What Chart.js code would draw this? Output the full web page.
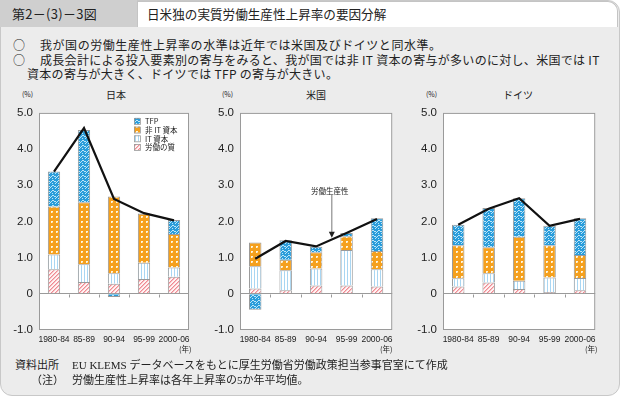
<!DOCTYPE html>
<html><head><meta charset="utf-8">
<script src="https://cdn.jsdelivr.net/npm/chart.js@4.4.0/dist/chart.umd.min.js"></script>
<style>
body{margin:0;width:621px;height:398px;background:#fff;position:relative;overflow:hidden;font-family:"Noto Sans CJK JP",sans-serif;color:#222}
.abs{position:absolute;white-space:nowrap}
canvas{position:absolute}
</style></head><body>
<div class="abs" style="left:0;top:0;width:618px;height:394px;background:#ececec;border:1px solid #c8c8c8;border-radius:0 12px 12px 12px"></div>
<div class="abs" style="left:0;top:0;width:137px;height:27px;background:#cfcfcf"></div>
<div class="abs" style="left:137px;top:1px;width:479px;height:25px;background:#fff;border:1px solid #c4c4c4;border-bottom:none;border-radius:0 10px 0 0"></div>
<div class="abs" style="left:12px;top:5px;font-size:13px;line-height:17px;letter-spacing:0.3px">第2－(3)－3図</div>
<div class="abs" style="left:147px;top:5px;font-size:12.6px;line-height:17px">日米独の実質労働生産性上昇率の要因分解</div>
<div class="abs" style="left:13px;top:37px;font-size:12px;line-height:16px">○</div>
<div class="abs" style="left:40px;top:37px;font-size:12px;line-height:16px;letter-spacing:0.55px">我が国の労働生産性上昇率の水準は近年では米国及びドイツと同水準。</div>
<div class="abs" style="left:13px;top:52px;font-size:12px;line-height:16px">○</div>
<div class="abs" style="left:40px;top:52px;font-size:12px;line-height:16px;letter-spacing:0.3px">成長会計による投入要素別の寄与をみると、我が国では非 IT 資本の寄与が多いのに対し、米国では IT</div>
<div class="abs" style="left:27px;top:66px;font-size:12px;line-height:16px;letter-spacing:0.3px">資本の寄与が大きく、ドイツでは TFP の寄与が大きい。</div>

<div class="abs" style="left:22px;top:89px;font-size:7px">(%)</div>
<div class="abs" style="left:106px;top:87px;font-size:10px">日本</div>
<div class="abs" style="left:222px;top:89px;font-size:7px">(%)</div>
<div class="abs" style="left:306px;top:87px;font-size:10px">米国</div>
<div class="abs" style="left:426px;top:89px;font-size:7px">(%)</div>
<div class="abs" style="left:503px;top:87px;font-size:10px">ドイツ</div>

<canvas id="c0" width="195" height="250" style="left:0;top:100px"></canvas>
<canvas id="c1" width="198" height="250" style="left:200px;top:100px"></canvas>
<canvas id="c2" width="201" height="250" style="left:400px;top:100px"></canvas>

<div class="abs" style="left:179px;top:343px;font-size:7.5px">(年)</div>
<div class="abs" style="left:380px;top:343px;font-size:7.5px">(年)</div>
<div class="abs" style="left:585px;top:343px;font-size:7.5px">(年)</div>

<div class="abs" style="left:15px;top:358px;font-size:11px;line-height:14px;font-family:'Liberation Serif','Noto Sans CJK JP',serif">資料出所</div>
<div class="abs" style="left:72px;top:358px;font-size:11px;line-height:14px;font-family:'Liberation Serif','Noto Sans CJK JP',serif">EU KLEMS データベースをもとに厚生労働省労働政策担当参事官室にて作成</div>
<div class="abs" style="left:31px;top:373px;font-size:11px;line-height:14px;font-family:'Liberation Serif','Noto Sans CJK JP',serif">（注）</div>
<div class="abs" style="left:72px;top:373px;font-size:11px;line-height:14px;font-family:'Liberation Serif','Noto Sans CJK JP',serif">労働生産性上昇率は各年上昇率の5か年平均値。</div>

<script>
// ---- data ----
const categories = ['1980-84', '85-89', '90-94', '95-99', '2000-06'];
const yTickValues = [-1.0, 0, 1.0, 2.0, 3.0, 4.0, 5.0];
const seriesNames = ['労働の質', 'IT 資本', '非 IT 資本', 'TFP'];
const legendNames = ['TFP', '非 IT 資本', 'IT 資本', '労働の質'];
const lineName = '労働生産性';

const jpLabor = [0.68, 0.33, 0.28, 0.41, 0.47];
const jpIT    = [0.41, 0.49, 0.29, 0.45, 0.26];
const jpNonIT = [1.32, 1.71, 2.12, 1.35, 0.92];
const jpTFP   = [0.97, 2.00, -0.09, 0.02, 0.39];
const jpLP    = [3.38, 4.58, 2.62, 2.23, 2.03];

const usLabor = [0.15, 0.10, 0.23, 0.23, 0.20];
const usIT    = [0.61, 0.55, 0.47, 0.98, 0.48];
const usNonIT = [0.66, 0.29, 0.45, 0.38, 0.50];
const usTFP   = [-0.44, 0.54, 0.15, 0.09, 0.91];
const usLP    = [0.97, 1.46, 1.31, 1.68, 2.07];

const deLabor = [0.20, 0.31, 0.13, 0.05, 0.10];
const deIT    = [0.23, 0.26, 0.23, 0.40, 0.34];
const deNonIT = [0.91, 0.72, 1.22, 0.89, 0.63];
const deTFP   = [0.57, 1.08, 1.06, 0.54, 1.02];
const deLP    = [1.91, 2.35, 2.64, 1.88, 2.07];

// ---- patterns ----
function tile(w, h, draw) {
  const c = document.createElement('canvas'); c.width = w; c.height = h;
  const g = c.getContext('2d'); draw(g);
  return g.createPattern(c, 'repeat');
}
const patTFP = tile(6, 5, g => {
  g.fillStyle = '#2a9ddb'; g.fillRect(0, 0, 6, 5);
  g.fillStyle = '#bde5f8';
  g.fillRect(0, 1, 2, 1); g.fillRect(2, 2, 1, 1); g.fillRect(3, 1, 1, 1); g.fillRect(4, 0, 2, 1);
  g.fillRect(1, 3, 1, 1); g.fillRect(4, 3, 1, 1);
});
const patNonIT = tile(5, 5, g => {
  g.fillStyle = '#f5a01d'; g.fillRect(0, 0, 5, 5);
  g.fillStyle = '#fff6e0';
  g.fillRect(1, 1, 2, 1); g.fillRect(1, 2, 1, 1);
  g.fillStyle = '#fcd48a'; g.fillRect(2, 2, 1, 1);
});
const patIT = tile(3, 1, g => {
  g.fillStyle = '#ffffff'; g.fillRect(0, 0, 3, 1);
  g.fillStyle = '#a9d6f2'; g.fillRect(0, 0, 1, 1);
});
const patLabor = tile(4, 4, g => {
  g.fillStyle = '#fff3f3'; g.fillRect(0, 0, 4, 4);
  g.fillStyle = '#ef8a92';
  g.fillRect(3, 0, 1, 1); g.fillRect(2, 1, 1, 1); g.fillRect(1, 2, 1, 1); g.fillRect(0, 3, 1, 1);
  g.fillStyle = '#f7bfc3';
  g.fillRect(0, 0, 1, 1); g.fillRect(3, 1, 1, 1); g.fillRect(2, 2, 1, 1); g.fillRect(1, 3, 1, 1);
});
const patterns = [patLabor, patIT, patNonIT, patTFP];

// ---- plugins ----
const frame = {
  id: 'frame',
  beforeDraw(chart) {
    const a = chart.chartArea, g = chart.ctx;
    g.save(); g.fillStyle = '#fff'; g.fillRect(a.left, a.top, a.right - a.left, a.bottom - a.top); g.restore();
  },
  afterDatasetsDraw(chart) {
    const a = chart.chartArea, g = chart.ctx;
    g.save();
    g.strokeStyle = '#9a9a9a'; g.lineWidth = 1;
    g.strokeRect(a.left + 0.5, a.top + 0.5, a.right - a.left - 1, a.bottom - a.top - 1);
    const y0 = Math.round(chart.scales.y.getPixelForValue(0)) + 0.5;
    const xs = chart.scales.x;
    g.beginPath();
    for (let i = 1; i < categories.length; i++) {
      const x = Math.round((xs.getPixelForValue(i - 1) + xs.getPixelForValue(i)) / 2) + 0.5;
      g.moveTo(x, y0); g.lineTo(x, y0 + 3);
    }
    g.stroke();
    g.restore();
  }
};

const legendPlugin = {
  id: 'innerLegend',
  afterDraw(chart, args, opts) {
    if (!opts.show) return;
    const a = chart.chartArea, g = chart.ctx;
    const x0 = a.left + 95, y0 = a.top + 8;
    g.save();
    g.font = '7.5px "Noto Sans CJK JP"'; g.textBaseline = 'middle'; g.fillStyle = '#222';
    legendNames.forEach((n, i) => {
      const ds = chart.data.datasets.find(d => d.label === n);
      const y = y0 + i * 8.7;
      g.fillStyle = ds.backgroundColor; g.fillRect(x0, y - 3, 6, 6);
      g.strokeStyle = '#999'; g.lineWidth = 0.8; g.strokeRect(x0 + 0.5, y - 2.5, 6, 6);
      g.fillStyle = '#222'; g.fillText(n, x0 + 11, y + 0.5);
    });
    g.restore();
  }
};

const arrowPlugin = {
  id: 'arrowNote',
  afterDraw(chart, args, opts) {
    if (!opts.show) return;
    const xs = chart.scales.x, ys = chart.scales.y, g = chart.ctx;
    const x = (xs.getPixelForValue(2) + xs.getPixelForValue(3)) / 2 + 0.5;
    g.save();
    g.font = '7.5px "Noto Sans CJK JP"'; g.textAlign = 'center'; g.textBaseline = 'middle'; g.fillStyle = '#222';
    g.fillText(lineName, x - 2, ys.getPixelForValue(2.85));
    const yTop = ys.getPixelForValue(2.74), yTip = ys.getPixelForValue(1.55);
    g.strokeStyle = '#555'; g.lineWidth = 0.8;
    g.beginPath(); g.moveTo(x, yTop); g.lineTo(x, yTip - 4); g.stroke();
    g.fillStyle = '#222';
    g.beginPath(); g.moveTo(x - 3, yTip - 6); g.lineTo(x + 3, yTip - 6); g.lineTo(x, yTip); g.closePath(); g.fill();
    g.restore();
  }
};

function makeChart(id, parts, lp, axisW, showLegend, showArrow) {
  const datasets = parts.map((vals, i) => ({
    type: 'bar', label: seriesNames[i], data: vals, stack: 'bars', order: 1,
    backgroundColor: patterns[i], borderColor: '#9a9a9a', borderWidth: 1,
    barPercentage: 0.41, categoryPercentage: 1.0
  }));
  datasets.push({
    type: 'line', label: lineName, data: lp, stack: 'line', order: 0,
    borderColor: '#111', borderWidth: 2.2, pointRadius: 0, tension: 0, fill: false
  });
  new Chart(document.getElementById(id), {
    data: { labels: categories, datasets },
    options: {
      responsive: false, animation: false, devicePixelRatio: 1,
      layout: { padding: { top: 5, right: 4, left: 0, bottom: 0 } },
      plugins: { legend: { display: false }, tooltip: { enabled: false },
        innerLegend: { show: showLegend }, arrowNote: { show: showArrow } },
      scales: {
        x: {
          stacked: true,
          grid: { display: false, drawTicks: false }, border: { display: false },
          ticks: { font: { family: '"Liberation Sans Narrow","Liberation Sans"', size: 8.5 }, color: '#222', padding: 5, maxRotation: 0, autoSkip: false },
          afterFit(s) { s.height = 20; }
        },
        y: {
          stacked: true, min: -1, max: 5,
          afterBuildTicks(s) { s.ticks = yTickValues.map(v => ({ value: v })); },
          grid: { drawTicks: false, color: c => (c.tick && c.tick.value === 0) ? '#9a9a9a' : 'rgba(0,0,0,0)', lineWidth: 1 },
          border: { display: false },
          ticks: { font: { family: '"Liberation Sans"', size: 11.5 }, color: '#222', padding: 6,
            callback: v => v === 0 ? '0' : v.toFixed(1) },
          afterFit(s) { s.width = axisW; }
        }
      }
    },
    plugins: [frame, legendPlugin, arrowPlugin]
  });
}

makeChart('c0', [jpLabor, jpIT, jpNonIT, jpTFP], jpLP, 39, true, false);
makeChart('c1', [usLabor, usIT, usNonIT, usTFP], usLP, 40, false, true);
makeChart('c2', [deLabor, deIT, deNonIT, deTFP], deLP, 43, false, false);
</script>
</body></html>
